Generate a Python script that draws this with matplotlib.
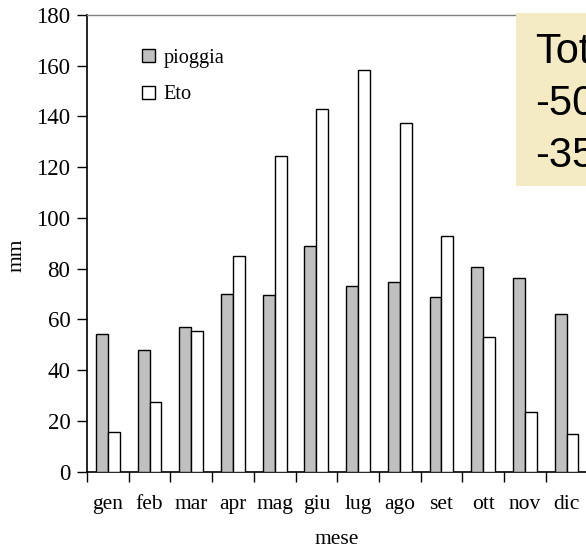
import matplotlib
matplotlib.use("Agg")
import matplotlib.pyplot as plt
import numpy as np
from matplotlib.patches import Rectangle

months = ["gen", "feb", "mar", "apr", "mag", "giu", "lug", "ago", "set", "ott", "nov", "dic"]
pioggia = [54.3, 48.1, 57.0, 70.1, 69.7, 88.8, 73.0, 74.6, 69.0, 80.5, 76.4, 62.3]
eto = [15.8, 27.6, 55.4, 84.9, 124.3, 143.1, 158.2, 137.4, 92.7, 53.1, 23.7, 14.7]
yticks = [0, 20, 40, 60, 80, 100, 120, 140, 160, 180]
box_lines = ["Tot", "-50", "-35"]

W, H = 586, 551
fig = plt.figure(figsize=(W / 100, H / 100), dpi=100)
fig.patch.set_facecolor("white")

left, right, top, bottom = 87, 587.4, 15, 471.7
ax = fig.add_axes([left / W, 1 - bottom / H, (right - left) / W, (bottom - top) / H])
ax.set_facecolor("none")

x = np.arange(len(months))
bw = 0.2857
serif = "Liberation Serif"
ax.bar(x - bw / 2, pioggia, bw, color="#C0C0C0", edgecolor="black", linewidth=1.0, label="pioggia", zorder=3)
ax.bar(x + bw / 2, eto, bw, color="white", edgecolor="black", linewidth=1.0, label="Eto", zorder=3)

ax.set_xlim(-0.5, len(months) - 0.5)
ax.set_ylim(0, 180)
ax.set_yticks(yticks)
ax.set_yticklabels([str(v) for v in yticks], fontsize=16.5, family=serif)
ax.set_xticks(x)
ax.set_xticklabels(months, fontsize=15.5, family=serif)
ax.set_xticks(np.arange(-0.5, len(months) + 0.5, 1), minor=True)
ax.tick_params(axis="x", which="major", length=0, pad=17)
ax.tick_params(axis="x", which="minor", length=7, width=1, direction="out")
ax.tick_params(axis="y", which="major", length=7, width=1, direction="out", pad=5)

for s in ["left", "bottom"]:
    ax.spines[s].set_color("black")
    ax.spines[s].set_linewidth(1.2)
ax.spines["top"].set_color("#808080")
ax.spines["top"].set_linewidth(1.0)
ax.spines["right"].set_visible(False)

fig.text(17 / W, 1 - 255 / H, "mm", rotation=90, ha="center", va="center", fontsize=15.5, family=serif)
fig.text(337 / W, 1 - 540 / H, "mese", ha="center", va="center", fontsize=15.5, family=serif)

leg = ax.legend(loc="upper left", bbox_to_anchor=(142 / W, 1 - 49 / H), bbox_transform=fig.transFigure,
                frameon=False, prop={"family": serif, "size": 14.7}, handlelength=0.62, handleheight=0.62,
                handletextpad=0.45, labelspacing=0.85, borderpad=0, borderaxespad=0)

# text box in the upper right
fig.patches.append(Rectangle((516 / W, 1 - 186 / H), (W - 516) / W + 0.01, (186 - 13) / H,
                             transform=fig.transFigure, facecolor="#F4EAC4", edgecolor="none", zorder=5))
for i, line in enumerate(box_lines):
    fig.text(535 / W, 1 - (63 + 52 * i) / H, line, ha="left", va="baseline", fontsize=30,
             family="Liberation Sans", zorder=6)

fig.savefig("out.png", dpi=100)
